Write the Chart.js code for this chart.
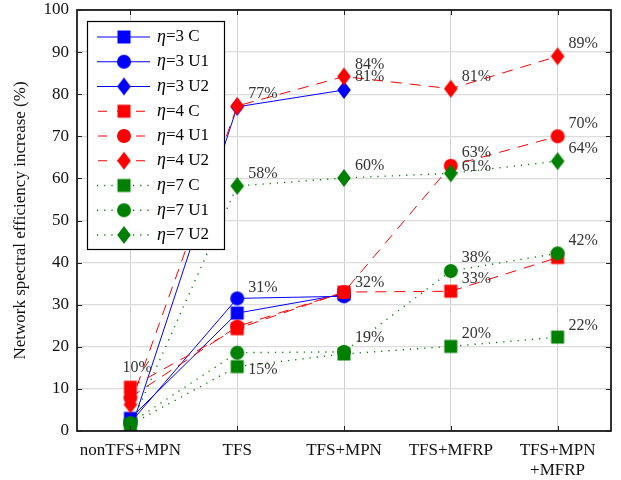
<!DOCTYPE html>
<html>
<head>
<meta charset="utf-8">
<script src="https://cdn.jsdelivr.net/npm/chart.js@4"></script>
<style>
  html, body { margin: 0; padding: 0; background: #fff; }
  #wrap { width: 621px; height: 480px; }
</style>
</head>
<body>
<div id="wrap"><canvas id="chart" width="621" height="480"></canvas></div>
<script>
// Categories and series
const categories = ['nonTFS+MPN', 'TFS', 'TFS+MPN', 'TFS+MFRP', ['TFS+MPN', '+MFRP']];
const yTicks = [0, 10, 20, 30, 40, 50, 60, 70, 80, 90, 100];

const eta3C  = [3, 28, 32.5, null, null];
const eta3U1 = [2, 31.5, 32, null, null];
const eta3U2 = [0, 77, 81, null, null];
const eta4C  = [10.4, 24.3, 33, 33.2, 41.2];
const eta4U1 = [8, 24.8, 33, 63, 70];
const eta4U2 = [6.3, 77.2, 84.2, 81.3, 89];
const eta7C  = [1.5, 15.3, 18.3, 20.1, 22.3];
const eta7U1 = [1.9, 18.6, 18.8, 38, 42.2];
const eta7U2 = [1.2, 58.2, 60.1, 61.2, 64.1];

// Percent labels: [category index, value, text]
const pctLabels = [
    [0, 10, '10%'],
    [1, 77, '77%'], [1, 31, '31%'], [1, 58, '58%'], [1, 15, '15%'],
    [2, 84, '84%'], [2, 81, '81%'], [2, 60, '60%'], [2, 32, '32%'], [2, 19, '19%'],
    [3, 81, '81%'], [3, 63, '63%'], [3, 61, '61%'], [3, 38, '38%'], [3, 33, '33%'], [3, 20, '20%'],
    [4, 89, '89%'], [4, 70, '70%'], [4, 64, '64%'], [4, 42, '42%'], [4, 22, '22%']
];

const BLUE = 'rgb(0,0,255)';
const RED = 'rgb(255,0,0)';
const GREEN = 'rgb(0,128,0)';
const SERIF = '"Liberation Serif", "Times New Roman", serif';

// Build marker images
function makeMarker(shape, color) {
    const c = document.createElement('canvas');
    c.width = 18; c.height = 20;
    const g = c.getContext('2d');
    g.fillStyle = color;
    g.beginPath();
    if (shape === 'square') {
        g.rect(2.5, 3.5, 13, 13);
    } else if (shape === 'circle') {
        g.arc(9, 10, 7, 0, Math.PI * 2);
    } else {
        g.moveTo(9, 1); g.lineTo(15.8, 10); g.lineTo(9, 19); g.lineTo(2.2, 10);
        g.closePath();
    }
    g.fill();
    return c;
}

const DASHED = [11, 8];
const DOTTED = [1.2, 6];

const seriesDefs = [
    { label: '3 C',  data: eta3C,  color: BLUE,  shape: 'square', dash: [] },
    { label: '3 U1', data: eta3U1, color: BLUE,  shape: 'circle', dash: [] },
    { label: '3 U2', data: eta3U2, color: BLUE,  shape: 'diamond', dash: [] },
    { label: '4 C',  data: eta4C,  color: RED,   shape: 'square', dash: DASHED },
    { label: '4 U1', data: eta4U1, color: RED,   shape: 'circle', dash: DASHED },
    { label: '4 U2', data: eta4U2, color: RED,   shape: 'diamond', dash: DASHED },
    { label: '7 C',  data: eta7C,  color: GREEN, shape: 'square', dash: DOTTED },
    { label: '7 U1', data: eta7U1, color: GREEN, shape: 'circle', dash: DOTTED },
    { label: '7 U2', data: eta7U2, color: GREEN, shape: 'diamond', dash: DOTTED }
];
seriesDefs.forEach(s => { s.marker = makeMarker(s.shape, s.color); });

const datasets = seriesDefs.map((s, i) => ({
    label: s.label,
    data: s.data,
    borderColor: s.color,
    backgroundColor: s.color,
    borderWidth: s.dash === DOTTED ? 1.4 : 1,
    borderDash: s.dash,
    pointStyle: s.marker,
    pointRadius: 7,
    tension: 0,
    spanGaps: false,
    order: seriesDefs.length - i
}));

// label nudges (dx, dy) away from the default
const labelNudge = { '10%': [-8, -21], '15%': [11, 2], '61%': [11, -7] };

// Frame, inward ticks, percent labels and legend
const decorPlugin = {
    id: 'decor',
    afterDraw(chart) {
        const { ctx, chartArea: a, scales } = chart;
        const x = scales.x, y = scales.y;
        ctx.save();

        // percent labels
        ctx.font = '16px ' + SERIF;
        ctx.fillStyle = '#333';
        ctx.textBaseline = 'middle';
        ctx.textAlign = 'left';
        pctLabels.forEach(([ci, v, t]) => {
            const off = labelNudge[t] || [11, -13];
            ctx.fillText(t, x.getPixelForValue(ci) + off[0], y.getPixelForValue(v) + off[1]);
        });

        // frame
        ctx.strokeStyle = '#000';
        ctx.lineWidth = 1.6;
        ctx.strokeRect(a.left, a.top, a.right - a.left, a.bottom - a.top);
        ctx.lineWidth = 1;
        ctx.strokeStyle = '#222';
        ctx.beginPath();
        yTicks.forEach(v => {
            const py = Math.round(y.getPixelForValue(v)) + 0.5;
            ctx.moveTo(a.left, py); ctx.lineTo(a.left + 5, py);
            ctx.moveTo(a.right, py); ctx.lineTo(a.right - 5, py);
        });
        categories.forEach((c, i) => {
            const px = Math.round(x.getPixelForValue(i)) + 0.5;
            ctx.moveTo(px, a.bottom); ctx.lineTo(px, a.bottom - 5);
            ctx.moveTo(px, a.top); ctx.lineTo(px, a.top + 5);
        });
        ctx.stroke();

        // legend
        const lx = 87, ly = 21, lw = 137, lh = 228;
        ctx.fillStyle = '#fff';
        ctx.fillRect(lx, ly, lw, lh);
        ctx.lineWidth = 1.2;
        ctx.strokeStyle = '#000';
        ctx.strokeRect(lx + 0.5, ly + 0.5, lw, lh);
        seriesDefs.forEach((s, i) => {
            const cy = 37 + i * 24.75;
            ctx.strokeStyle = s.color;
            ctx.lineWidth = s.dash === DOTTED ? 1.4 : 1;
            ctx.setLineDash(s.dash === DASHED ? [9, 10] : s.dash);
            ctx.lineDashOffset = s.dash === DASHED ? -1 : 0;
            ctx.beginPath();
            ctx.moveTo(97, cy); ctx.lineTo(150, cy);
            ctx.stroke();
            ctx.setLineDash([]);
            ctx.drawImage(s.marker, 124 - s.marker.width / 2, cy - s.marker.height / 2);
            ctx.fillStyle = '#000';
            ctx.font = 'italic 18px ' + SERIF;
            ctx.fillText('\u03b7', 157, cy);
            const w = ctx.measureText('\u03b7').width;
            ctx.font = '17px ' + SERIF;
            ctx.fillText('=' + s.label, 157 + w, cy);
        });
        ctx.restore();
    }
};

new Chart(document.getElementById('chart'), {
    type: 'line',
    data: { labels: categories, datasets: datasets },
    options: {
        responsive: false,
        animation: false,
        events: [],
        layout: { padding: { top: 10, right: 10, left: 0, bottom: 0 } },
        plugins: { legend: { display: false }, tooltip: { enabled: false } },
        scales: {
            x: {
                offset: true,
                grid: { color: '#d0d0d0', lineWidth: 1, drawTicks: false, offset: false },
                border: { display: false },
                ticks: { color: '#111', font: { family: SERIF, size: 17 }, padding: 9, maxRotation: 0, autoSkip: false },
                afterFit(scale) { scale.height = 49; scale.paddingLeft = 0; scale.paddingRight = 0; }
            },
            y: {
                min: 0, max: 100,
                afterBuildTicks(scale) { scale.ticks = yTicks.map(v => ({ value: v })); },
                grid: { color: '#dcdcdc', lineWidth: 1.3, drawTicks: false },
                border: { display: false },
                ticks: { color: '#111', font: { family: SERIF, size: 17 }, padding: 8 },
                title: {
                    display: true,
                    text: 'Network spectral efficiency increase (%)',
                    color: '#111',
                    font: { family: SERIF, size: 17 },
                    padding: { top: 10, bottom: 0 }
                },
                afterFit(scale) { scale.width = 77; scale.paddingTop = 0; scale.paddingBottom = 0; }
            }
        }
    },
    plugins: [decorPlugin]
});
</script>
</body>
</html>
